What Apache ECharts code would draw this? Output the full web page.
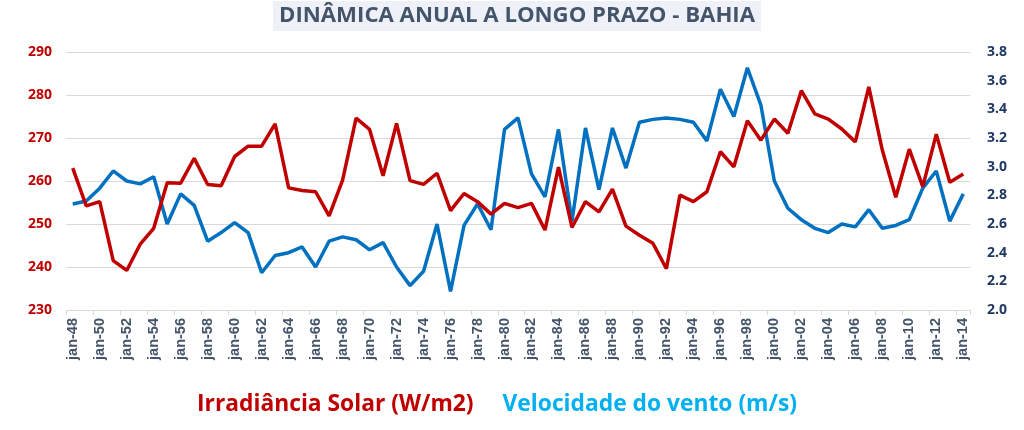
<!DOCTYPE html>
<html>
<head>
<meta charset="utf-8">
<script src="https://cdn.jsdelivr.net/npm/echarts@6/dist/echarts.min.js"></script>
<style>
html,body{margin:0;padding:0;background:#fff;}
#chart{width:1024px;height:430px;}
</style>
</head>
<body>
<div id="chart"></div>
<script>
// Years 1948..2014
const years = [];
for (let y = 1948; y <= 2014; y++) years.push(y);
const categories = years.map(y => 'jan-' + String(y % 100).padStart(2, '0'));

const irradiance = [
  263.0, 254.2, 255.2, 241.5, 239.2, 245.3, 249.0, 259.6, 259.5, 265.3,
  259.2, 258.9, 265.7, 268.1, 268.1, 273.3, 258.4, 257.8, 257.5, 251.9,
  260.2, 274.6, 272.0, 261.2, 273.4, 260.1, 259.2, 261.8, 253.1, 257.1,
  255.2, 252.3, 254.8, 253.8, 254.8, 248.6, 263.2, 249.2, 255.2, 252.8,
  258.1, 249.5, 247.4, 245.5, 239.6, 256.7, 255.2, 257.5, 266.8, 263.3,
  274.0, 269.5, 274.4, 271.1, 281.0, 275.6, 274.4, 272.1, 269.1, 281.9,
  267.2, 256.2, 267.4, 258.7, 270.9, 259.7, 261.6
];

const windSpeed = [
  2.74, 2.76, 2.85, 2.97, 2.90, 2.88, 2.93, 2.60, 2.81, 2.73,
  2.48, 2.54, 2.61, 2.54, 2.26, 2.38, 2.40, 2.44, 2.30, 2.48,
  2.51, 2.49, 2.42, 2.47, 2.30, 2.17, 2.27, 2.60, 2.13, 2.59,
  2.74, 2.56, 3.26, 3.34, 2.95, 2.79, 3.26, 2.62, 3.27, 2.84,
  3.27, 2.99, 3.31, 3.33, 3.34, 3.33, 3.31, 3.18, 3.54, 3.35,
  3.69, 3.43, 2.90, 2.71, 2.63, 2.57, 2.54, 2.60, 2.58, 2.70,
  2.57, 2.59, 2.63, 2.85, 2.97, 2.62, 2.81
];

const seriesNames = ['Irradiância Solar (W/m2)', 'Velocidade do vento (m/s)'];
const titleText = 'DINÂMICA ANUAL A LONGO PRAZO - BAHIA';

const chart = echarts.init(document.getElementById('chart'), null, {renderer: 'canvas'});
const FONT = '"Open Sans", "Noto Sans", sans-serif';

chart.setOption({
  animation: false,
  backgroundColor: '#ffffff',
  title: {
    text: titleText,
    left: 273,
    top: 1,
    padding: [4, 6, 4, 6],
    backgroundColor: '#eef2f8',
    textStyle: {fontFamily: FONT, fontSize: 22.2, fontWeight: 'bold', color: '#44546a'}
  },
  legend: {
    bottom: 9,
    left: 187,
    itemWidth: 0,
    itemHeight: 0,
    itemGap: 24,
    icon: 'none',
    selectedMode: false,
    data: [
      {name: seriesNames[0], textStyle: {color: '#c00000'}},
      {name: seriesNames[1], textStyle: {color: '#00b0f0'}}
    ],
    textStyle: {fontFamily: FONT, fontSize: 22.8, fontWeight: 'bold'}
  },
  grid: {left: 66, right: 54, top: 52, bottom: 120, containLabel: false},
  xAxis: {
    type: 'category',
    data: categories,
    boundaryGap: true,
    axisLine: {lineStyle: {color: '#d9d9d9', width: 1}},
    axisTick: {show: true, interval: 1, length: 5, lineStyle: {color: '#d9d9d9'}},
    axisLabel: {
      interval: 1,
      rotate: 90,
      margin: 8,
      fontFamily: '"Liberation Sans", Arial, sans-serif',
      fontSize: 14.5,
      fontWeight: 'bold',
      color: '#44546a'
    },
    splitLine: {show: false}
  },
  yAxis: [
    {
      type: 'value',
      min: 230, max: 290, interval: 10,
      axisLine: {show: false},
      axisTick: {show: false},
      axisLabel: {fontFamily: FONT, fontSize: 14, fontWeight: 'bold', color: '#c00000', margin: 14},
      splitLine: {show: true, lineStyle: {color: '#d9d9d9', width: 1}}
    },
    {
      type: 'value',
      min: 2.0, max: 3.8, interval: 0.2,
      position: 'right',
      axisLine: {show: false},
      axisTick: {show: false},
      axisLabel: {fontFamily: FONT, fontSize: 14, fontWeight: 'bold', color: '#1f3864', margin: 17,
        formatter: v => v.toFixed(1)},
      splitLine: {show: false}
    }
  ],
  series: [
    {
      name: seriesNames[0],
      type: 'line',
      yAxisIndex: 0,
      data: irradiance,
      symbol: 'none',
      lineStyle: {color: '#c00000', width: 3.5},
      itemStyle: {color: '#c00000'},
      z: 3
    },
    {
      name: seriesNames[1],
      type: 'line',
      yAxisIndex: 1,
      data: windSpeed,
      symbol: 'none',
      lineStyle: {color: '#0070c0', width: 3.5},
      itemStyle: {color: '#0070c0'},
      z: 2
    }
  ]
});
</script>
</body>
</html>
